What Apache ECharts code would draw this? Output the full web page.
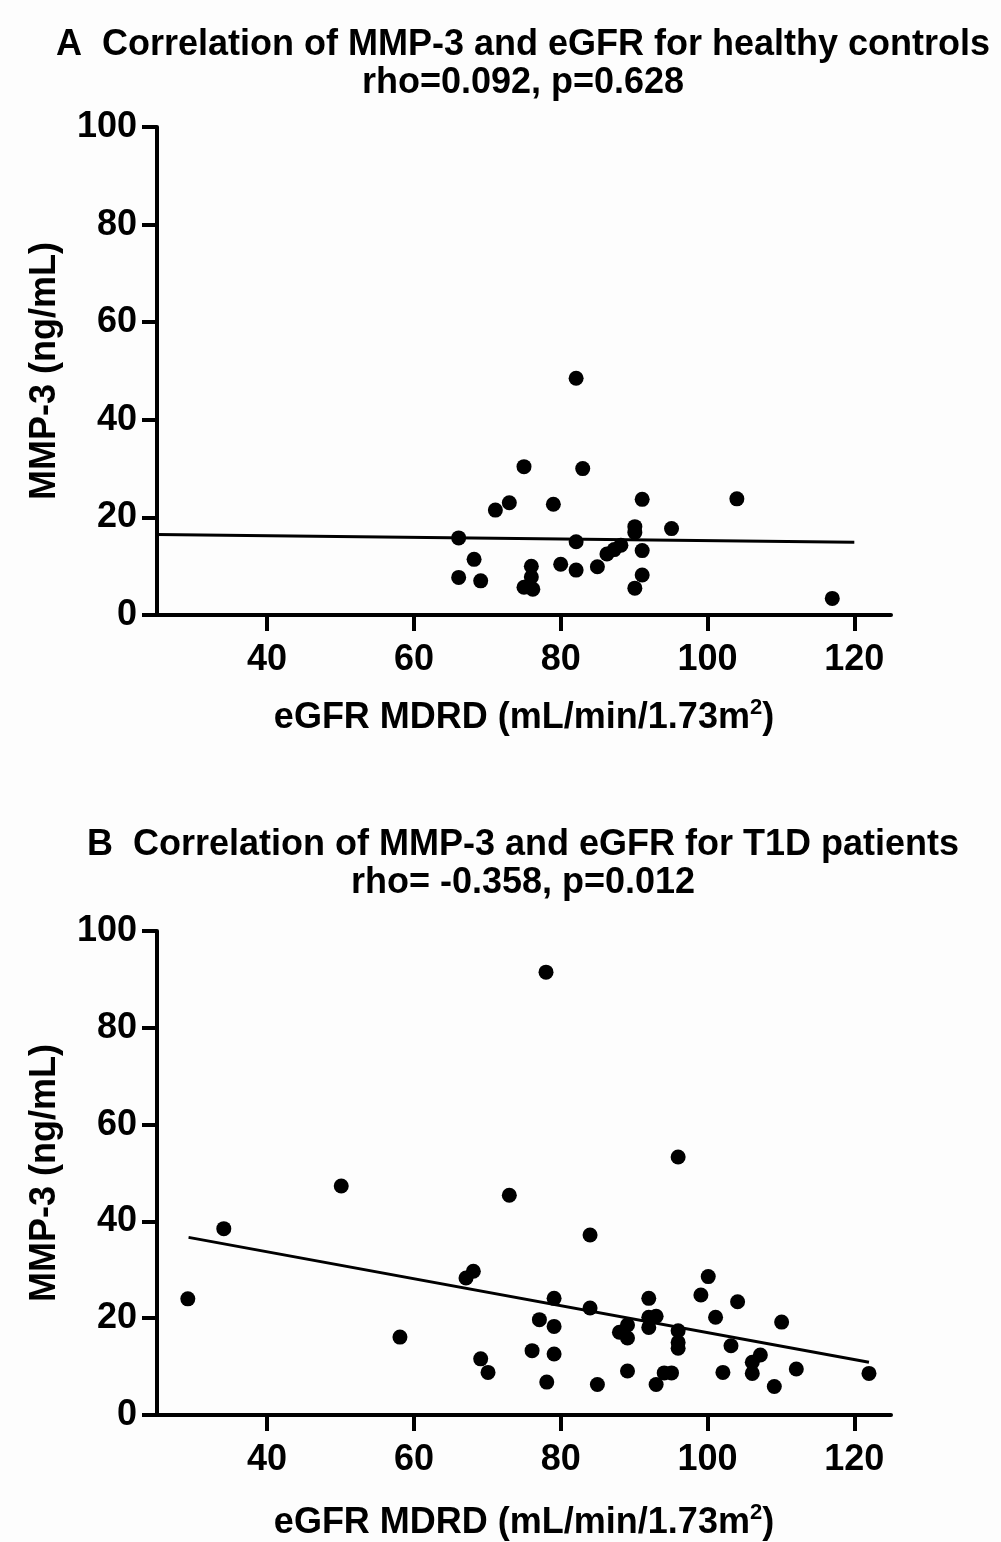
<!DOCTYPE html>
<html>
<head>
<meta charset="utf-8">
<script src="https://cdn.jsdelivr.net/npm/echarts@6/dist/echarts.min.js"></script>
<style>
html,body{margin:0;padding:0;background:#fdfdfd;}
#chart{width:1001px;height:1542px;}
</style>
</head>
<body>
<div id="chart"></div>
<script>
// ---- Data ----
const titleA = 'A  Correlation of MMP-3 and eGFR for healthy controls\nrho=0.092, p=0.628';
const titleB = 'B  Correlation of MMP-3 and eGFR for T1D patients\nrho= -0.358, p=0.012';
const xTickValues = [40, 60, 80, 100, 120];
const yTickValues = [0, 20, 40, 60, 80, 100];

// Panel A: healthy controls
const ctrlEGFR = [82.1, 75.0, 83.0, 73.0, 71.1, 79.0, 91.1, 104.0, 90.1, 90.1, 95.1, 66.1, 82.1, 88.2, 87.3, 86.3, 91.1, 68.2, 76.0, 80.0, 82.1, 85.0, 76.0, 66.1, 69.1, 91.1, 75.0, 76.2, 90.1, 117.0];
const ctrlMMP3 = [48.5, 30.4, 30.0, 23.0, 21.5, 22.7, 23.7, 23.8, 18.1, 16.9, 17.7, 15.8, 15.0, 14.3, 13.4, 12.5, 13.2, 11.4, 10.0, 10.4, 9.2, 9.9, 7.8, 7.7, 7.0, 8.2, 5.7, 5.3, 5.5, 3.4];
const ctrlFitX = [25, 120];
const ctrlFitY = [16.5, 14.9];

// Panel B: T1D patients
const t1dEGFR = [29.2, 34.1, 50.1, 58.1, 73.0, 67.1, 68.1, 69.1, 70.1, 76.1, 77.1, 78.1, 79.1, 79.1, 79.1, 84.0, 84.0, 85.0, 88.0, 89.1, 89.1, 89.1, 92.0, 92.0, 92.0, 93.0, 93.0, 94.1, 95.1, 96.0, 96.0, 96.0, 96.0, 99.1, 100.1, 101.1, 102.1, 103.2, 104.1, 106.1, 106.1, 107.2, 109.1, 110.1, 112.1, 122.0, 78.0];
const t1dMMP3 = [24.0, 38.5, 47.3, 16.1, 45.4, 28.3, 29.7, 11.6, 8.8, 13.3, 19.7, 6.8, 24.1, 18.3, 12.6, 37.2, 22.1, 6.3, 17.1, 18.6, 15.9, 9.1, 24.1, 20.2, 18.1, 20.4, 6.3, 8.7, 8.7, 53.3, 17.4, 15.0, 13.8, 24.8, 28.6, 20.2, 8.8, 14.3, 23.4, 10.9, 8.6, 12.4, 5.9, 19.2, 9.5, 8.6, 91.5];
const t1dFitX = [29.3, 122];
const t1dFitY = [36.7, 10.9];

// ---- Build ----
const zip = (a, b) => a.map((v, i) => [v, b[i]]);
const FONT = '"Liberation Sans", Arial, sans-serif';
const BLACK = '#000000';

function xAxisFor(gridIndex, gap) {
  return {
    gridIndex, type: 'value', min: 25, max: 125,
    name: '{a|eGFR MDRD (mL/min/1.73m}{s|2}{a|)}',
    nameLocation: 'middle', nameGap: gap,
    nameTextStyle: {
      rich: {
        a: {fontFamily: FONT, fontWeight: 'bold', fontSize: 36, color: BLACK},
        s: {fontFamily: FONT, fontWeight: 'bold', fontSize: 22, color: BLACK, verticalAlign: 'top', padding: [0, 0, 20, 0]}
      }
    },
    axisLine: {show: true, onZero: false, lineStyle: {color: BLACK, width: 4}},
    axisTick: {show: true, length: 16, lineStyle: {color: BLACK, width: 4}, customValues: xTickValues},
    axisLabel: {fontFamily: FONT, fontWeight: 'bold', fontSize: 36, color: BLACK, margin: 27, customValues: xTickValues},
    splitLine: {show: false}
  };
}
function yAxisFor(gridIndex) {
  return {
    gridIndex, type: 'value', min: 0, max: 100, interval: 20,
    name: 'MMP-3 (ng/mL)', nameLocation: 'middle', nameGap: 94,
    nameTextStyle: {fontFamily: FONT, fontWeight: 'bold', fontSize: 36, color: BLACK},
    axisLine: {show: true, lineStyle: {color: BLACK, width: 4}},
    axisTick: {show: true, length: 15, lineStyle: {color: BLACK, width: 4}},
    axisLabel: {fontFamily: FONT, fontWeight: 'bold', fontSize: 36, color: BLACK, margin: 20},
    splitLine: {show: false}
  };
}
function titleFor(text, top) {
  return {
    text, left: 523, top, textAlign: 'center', padding: 0,
    textStyle: {fontFamily: FONT, fontWeight: 'bold', fontSize: 36, lineHeight: 38, color: BLACK}
  };
}

const chart = echarts.init(document.getElementById('chart'), null, {renderer: 'canvas'});
chart.setOption({
  backgroundColor: '#fdfdfd',
  animation: false,
  title: [titleFor(titleA, 26), titleFor(titleB, 826)],
  grid: [
    {left: 157, width: 734, top: 127, height: 488},
    {left: 157, width: 734, top: 931, height: 485}
  ],
  xAxis: [xAxisFor(0, 82), xAxisFor(1, 87)],
  yAxis: [yAxisFor(0), yAxisFor(1)],
  series: [
    {type: 'line', xAxisIndex: 0, yAxisIndex: 0, data: zip(ctrlFitX, ctrlFitY), symbol: 'none', lineStyle: {color: BLACK, width: 3}, z: 2},
    {type: 'scatter', xAxisIndex: 0, yAxisIndex: 0, data: zip(ctrlEGFR, ctrlMMP3), symbol: 'circle', symbolSize: 15, itemStyle: {color: BLACK, opacity: 1}, z: 3},
    {type: 'line', xAxisIndex: 1, yAxisIndex: 1, data: zip(t1dFitX, t1dFitY), symbol: 'none', lineStyle: {color: BLACK, width: 3}, z: 2},
    {type: 'scatter', xAxisIndex: 1, yAxisIndex: 1, data: zip(t1dEGFR, t1dMMP3), symbol: 'circle', symbolSize: 15, itemStyle: {color: BLACK, opacity: 1}, z: 3}
  ]
});
</script>
</body>
</html>
